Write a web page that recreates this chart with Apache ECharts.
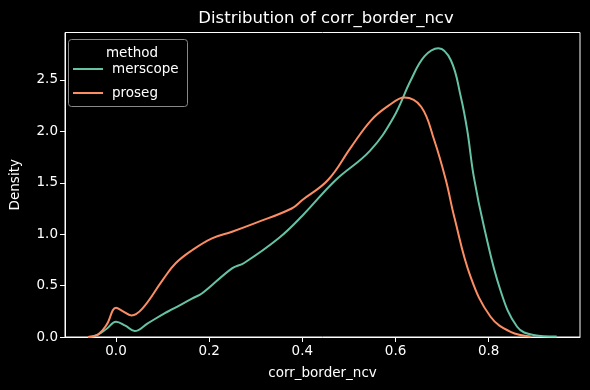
<!DOCTYPE html>
<html>
<head>
<meta charset="utf-8">
<script src="https://cdn.jsdelivr.net/npm/echarts@6/dist/echarts.min.js"></script>
<style>html,body{margin:0;padding:0;background:#000;}#c{width:590px;height:390px;}</style>
</head>
<body>
<div id="c"></div>
<script>
const seriesNames = ['merscope', 'proseg'];
const merscopeX = [-0.06,-0.04,-0.02,0.0,0.02,0.04,0.068,0.104,0.121,0.164,0.185,0.249,0.275,0.349,0.4,0.47,0.545,0.595,0.633,0.662,0.692,0.719,0.74,0.754,0.768,0.79,0.825,0.861,0.896,0.946];
const merscopeY = [0.0,0.02,0.08,0.149,0.11,0.058,0.133,0.23,0.27,0.376,0.425,0.668,0.72,0.96,1.18,1.52,1.81,2.13,2.5,2.73,2.81,2.69,2.34,2.01,1.56,1.07,0.457,0.1,0.02,0.005];
const prosegX = [-0.06,-0.038,-0.02,0.0,0.015,0.033,0.057,0.1,0.128,0.164,0.206,0.249,0.3,0.377,0.4,0.455,0.505,0.548,0.585,0.619,0.655,0.683,0.708,0.726,0.761,0.804,0.847,0.89];
const prosegY = [0.0,0.026,0.12,0.285,0.25,0.21,0.279,0.554,0.717,0.846,0.96,1.024,1.11,1.25,1.333,1.527,1.85,2.11,2.25,2.33,2.24,1.916,1.527,1.17,0.587,0.197,0.05,0.005];
const xTicks = [0.0, 0.2, 0.4, 0.6, 0.8];
const yTicks = [0.0, 0.5, 1.0, 1.5, 2.0, 2.5];
const colors = ['#66c2a5', '#fc8d62'];

const zip = (a, b) => a.map((v, i) => [v, b[i]]);
const font = 'DejaVu Sans';
const chart = echarts.init(document.getElementById('c'));
chart.setOption({
  backgroundColor: '#000',
  animation: false,
  textStyle: { fontFamily: font },
  title: [
    { text: 'Distribution of corr_border_ncv', left: 321, top: 5, textAlign: 'center',
      textStyle: { color: '#fff', fontSize: 16.5, fontWeight: 'normal', fontFamily: font } },
    { text: 'method', left: 127, top: 41, textAlign: 'center',
      textStyle: { color: '#fff', fontSize: 13.5, fontWeight: 'normal', fontFamily: font } }
  ],
  graphic: [
    { type: 'rect', shape: { x: 68.5, y: 39.5, width: 119, height: 67, r: 3 }, z: 5,
      style: { fill: 'rgba(0,0,0,0.8)', stroke: '#888', lineWidth: 1 } }
  ],
  legend: {
    data: seriesNames, orient: 'vertical', left: 73, top: 62, z: 10, padding: 0,
    icon: 'rect', itemWidth: 30, itemHeight: 2, itemGap: 10,
    textStyle: { color: '#fff', fontSize: 13.5, fontFamily: font, padding: [0, 0, 0, 4] }
  },
  grid: { left: 62, right: 10, top: 32.5, bottom: 53, show: true, borderColor: '#fff', borderWidth: 1, backgroundColor: 'transparent' },
  xAxis: {
    type: 'value', min: -0.1095, max: 0.996,
    name: 'corr_border_ncv', nameLocation: 'middle', nameGap: 29,
    nameTextStyle: { color: '#fff', fontSize: 13.5, fontFamily: font },
    axisLine: { onZero: false, lineStyle: { color: '#fff', width: 1 } },
    axisTick: { show: true, length: 5, lineStyle: { color: '#fff' }, customValues: xTicks },
    axisLabel: { color: '#fff', fontSize: 13.5, fontFamily: font, margin: 7, customValues: xTicks, formatter: v => v.toFixed(1) },
    splitLine: { show: false }
  },
  yAxis: {
    type: 'value', min: 0, max: 2.962,
    name: 'Density', nameLocation: 'middle', nameGap: 43, nameRotate: 90,
    nameTextStyle: { color: '#fff', fontSize: 13.5, fontFamily: font },
    axisLine: { show: true, onZero: false, lineStyle: { color: '#fff', width: 1 } },
    axisTick: { show: true, length: 5, lineStyle: { color: '#fff' }, customValues: yTicks },
    axisLabel: { color: '#fff', fontSize: 13.5, fontFamily: font, margin: 7, customValues: yTicks, formatter: v => v.toFixed(1) },
    splitLine: { show: false }
  },
  series: [
    { name: seriesNames[0], type: 'line', data: zip(merscopeX, merscopeY), smooth: 0.4, symbol: 'none',
      lineStyle: { color: colors[0], width: 2 }, itemStyle: { color: colors[0] } },
    { name: seriesNames[1], type: 'line', data: zip(prosegX, prosegY), smooth: 0.4, symbol: 'none',
      lineStyle: { color: colors[1], width: 2 }, itemStyle: { color: colors[1] } }
  ]
});
</script>
</body>
</html>
